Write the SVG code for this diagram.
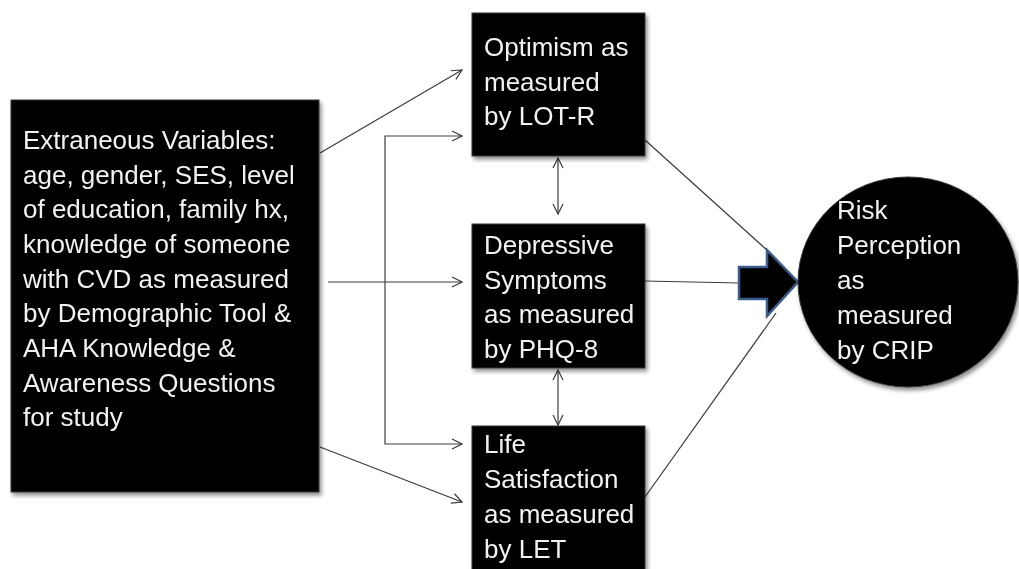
<svg xmlns="http://www.w3.org/2000/svg" width="1019" height="569" viewBox="0 0 1019 569">
<style>
.node{fill:#000;stroke:#3a3a3a;stroke-width:1}
.lbl{font-family:"Liberation Sans",Arial,sans-serif;font-size:26px;fill:#f2f2f2}
.ln{fill:none;stroke:#3c3c3c;stroke-width:1.2}
</style>
<defs>
<marker id="ah" viewBox="0 0 12 12" refX="11" refY="6" markerWidth="12" markerHeight="12" markerUnits="userSpaceOnUse" orient="auto-start-reverse">
<path d="M1,1 L11,6 L1,11" fill="none" stroke="#3c3c3c" stroke-width="1.2"/>
</marker>
<filter id="sh" x="-5%" y="-5%" width="115%" height="115%">
<feGaussianBlur in="SourceAlpha" stdDeviation="2"/>
<feOffset dx="2" dy="3"/>
<feComponentTransfer><feFuncA type="linear" slope="0.45"/></feComponentTransfer>
<feMerge><feMergeNode/><feMergeNode in="SourceGraphic"/></feMerge>
</filter>
</defs>
<rect width="1019" height="569" fill="#fff"/>

<g id="connectors">
<line class="ln" x1="320" y1="153" x2="462" y2="70" marker-end="url(#ah)"/>
<polyline class="ln" points="462,136 385,136 385,444 462,444" marker-start="url(#ah)" marker-end="url(#ah)"/>
<line class="ln" x1="328" y1="282" x2="462" y2="282" marker-end="url(#ah)"/>
<line class="ln" x1="320" y1="447" x2="462" y2="502" marker-end="url(#ah)"/>
<line class="ln" x1="558" y1="158" x2="558" y2="214" marker-start="url(#ah)" marker-end="url(#ah)"/>
<line class="ln" x1="558" y1="370" x2="558" y2="425" marker-start="url(#ah)" marker-end="url(#ah)"/>
<line class="ln" x1="645" y1="140" x2="768" y2="251"/>
<line class="ln" x1="645" y1="281" x2="740" y2="283"/>
<line class="ln" x1="645" y1="497" x2="776" y2="313"/>
<path id="blockArrow" d="M739,267 L767,267 L767,250 L798,282 L767,316 L767,299 L739,299 Z" fill="#000" stroke="#3b5b8c" stroke-width="2.5" stroke-linejoin="miter"/>
</g>

<g id="extraneous" filter="url(#sh)">
<rect class="node" x="11" y="100" width="308" height="392"/>
<text class="lbl" x="23">
<tspan x="23" y="149">Extraneous Variables:</tspan>
<tspan x="23" y="184">age, gender, SES, level</tspan>
<tspan x="23" y="218">of education, family hx,</tspan>
<tspan x="23" y="253">knowledge of someone</tspan>
<tspan x="23" y="288">with CVD as measured</tspan>
<tspan x="23" y="322">by Demographic Tool &amp;</tspan>
<tspan x="23" y="357">AHA Knowledge &amp;</tspan>
<tspan x="23" y="392">Awareness Questions</tspan>
<tspan x="23" y="426">for study</tspan>
</text>
</g>

<g id="optimism" filter="url(#sh)">
<rect class="node" x="472" y="13" width="173" height="143"/>
<text class="lbl">
<tspan x="484" y="56">Optimism as</tspan>
<tspan x="484" y="91">measured</tspan>
<tspan x="484" y="125">by LOT-R</tspan>
</text>
</g>

<g id="depressive" filter="url(#sh)">
<rect class="node" x="472" y="224" width="173" height="144"/>
<text class="lbl">
<tspan x="484" y="254">Depressive</tspan>
<tspan x="484" y="289">Symptoms</tspan>
<tspan x="484" y="323">as measured</tspan>
<tspan x="484" y="358">by PHQ-8</tspan>
</text>
</g>

<g id="life" filter="url(#sh)">
<rect class="node" x="472" y="426" width="173" height="150"/>
<text class="lbl">
<tspan x="484" y="453">Life</tspan>
<tspan x="484" y="488">Satisfaction</tspan>
<tspan x="484" y="523">as measured</tspan>
<tspan x="484" y="558">by LET</tspan>
</text>
</g>

<g id="risk" filter="url(#sh)">
<ellipse class="node" cx="908" cy="282" rx="110" ry="105"/>
<text class="lbl">
<tspan x="837" y="219">Risk</tspan>
<tspan x="837" y="254">Perception</tspan>
<tspan x="837" y="289">as</tspan>
<tspan x="837" y="324">measured</tspan>
<tspan x="837" y="359">by CRIP</tspan>
</text>
</g>
</svg>
